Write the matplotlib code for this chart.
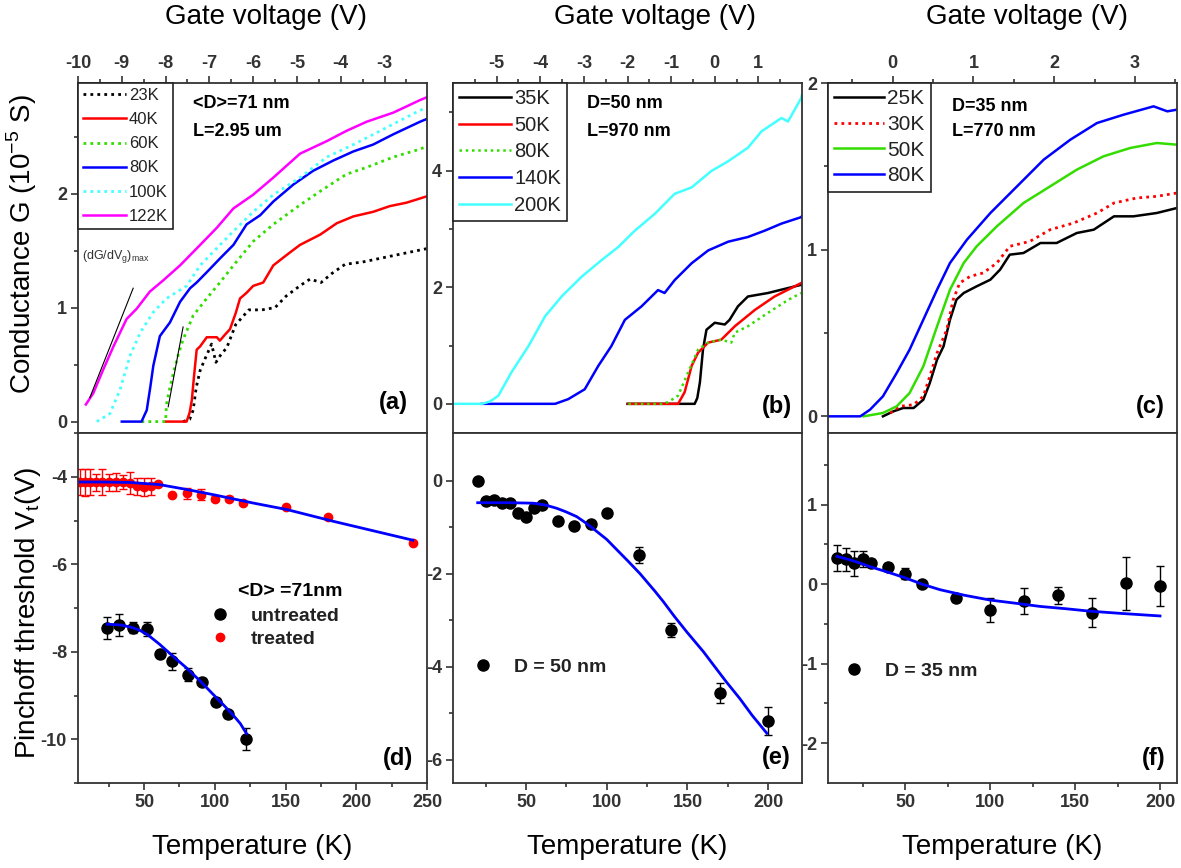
import matplotlib
matplotlib.use('Agg')
import matplotlib.pyplot as plt
from matplotlib.lines import Line2D

plt.rcParams['font.family'] = ['Liberation Sans', 'DejaVu Sans']
plt.rcParams['mathtext.fontset'] = 'custom'
plt.rcParams['mathtext.rm'] = 'Liberation Sans'
plt.rcParams['axes.unicode_minus'] = False

# ---- panel (a): G vs Vg, <D>=71 nm ----
a23_v = [-7.6, -7.45, -7.37, -7.3, -7.21, -7.1, -6.95, -6.85, -6.75, -6.6, -6.4, -6.1, -5.8, -5.5, -5.25, -4.9, -4.7, -4.45, -4.2, -3.9, -3.5, -3.0, -2.5, -2.0]
a23_g = [0, 0.02, 0.1, 0.3, 0.45, 0.55, 0.68, 0.52, 0.58, 0.65, 0.85, 0.98, 0.98, 1.0, 1.1, 1.2, 1.25, 1.22, 1.3, 1.38, 1.4, 1.44, 1.48, 1.52]
a40_v = [-8.0, -7.52, -7.45, -7.4, -7.35, -7.29, -7.21, -7.06, -6.83, -6.76, -6.65, -6.53, -6.4, -6.3, -6.15, -6.0, -5.77, -5.54, -5.24, -4.93, -4.47, -4.09, -3.71, -3.26, -2.88, -2.5, -2.0]
a40_g = [0, 0, 0.08, 0.19, 0.4, 0.63, 0.66, 0.74, 0.74, 0.71, 0.76, 0.81, 0.95, 1.08, 1.13, 1.19, 1.22, 1.37, 1.46, 1.55, 1.64, 1.74, 1.80, 1.84, 1.89, 1.92, 1.98]
a60_v = [-8.55, -8.0, -7.98, -7.9, -7.82, -7.7, -7.6, -7.37, -7.06, -6.76, -6.45, -6.0, -5.54, -4.93, -4.47, -3.87, -3.41, -2.80, -2.19, -2.0]
a60_g = [0, 0, 0.15, 0.3, 0.43, 0.6, 0.72, 0.93, 1.08, 1.22, 1.37, 1.58, 1.73, 1.90, 2.02, 2.17, 2.23, 2.32, 2.39, 2.42]
a80_v = [-9.0, -8.55, -8.43, -8.35, -8.28, -8.13, -7.9, -7.67, -7.44, -7.29, -7.06, -6.76, -6.45, -6.15, -5.84, -5.54, -5.08, -4.63, -4.17, -3.71, -3.26, -2.80, -2.19, -2.0]
a80_g = [0, 0, 0.1, 0.3, 0.49, 0.75, 0.87, 1.05, 1.17, 1.22, 1.31, 1.43, 1.55, 1.73, 1.81, 1.93, 2.08, 2.20, 2.29, 2.37, 2.43, 2.52, 2.63, 2.66]
a100_v = [-9.57, -9.27, -9.04, -8.81, -8.58, -8.28, -7.98, -7.52, -7.21, -6.91, -6.45, -6.0, -5.54, -4.93, -4.32, -3.71, -3.1, -2.65, -2.19, -2.0]
a100_g = [0, 0.07, 0.28, 0.58, 0.78, 0.96, 1.08, 1.19, 1.37, 1.49, 1.67, 1.84, 1.99, 2.14, 2.32, 2.43, 2.55, 2.64, 2.73, 2.76]
a122_v = [-9.82, -9.65, -9.42, -9.19, -8.89, -8.66, -8.36, -8.05, -7.67, -7.21, -6.83, -6.45, -6.0, -5.54, -4.93, -4.32, -3.87, -3.41, -2.80, -2.19, -2.0]
a122_g = [0.15, 0.25, 0.46, 0.66, 0.90, 0.99, 1.14, 1.24, 1.37, 1.55, 1.70, 1.87, 1.99, 2.14, 2.35, 2.46, 2.55, 2.63, 2.71, 2.82, 2.85]
tan1_v = [-9.73, -8.74]
tan1_g = [0.21, 1.17]
tan2_v = [-7.94, -7.6]
tan2_g = [0.13, 0.83]

# ---- panel (b): D=50 nm ----
b35_v = [-2.0, -0.46, -0.4, -0.34, -0.27, -0.19, 0.0, 0.23, 0.34, 0.53, 0.76, 1.22, 1.98]
b35_g = [0, 0, 0.1, 0.37, 0.93, 1.27, 1.39, 1.36, 1.44, 1.67, 1.84, 1.90, 2.04]
b50_v = [-1.98, -0.84, -0.69, -0.53, -0.38, -0.15, 0.15, 0.46, 0.92, 1.37, 1.98]
b50_g = [0, 0, 0.20, 0.65, 0.88, 1.05, 1.10, 1.33, 1.61, 1.84, 2.07]
b80_v = [-1.98, -1.22, -1.07, -0.84, -0.61, -0.38, -0.15, 0.15, 0.38, 0.46, 0.76, 1.22, 1.68, 1.98]
b80_g = [0, 0, 0.03, 0.14, 0.54, 0.93, 1.05, 1.10, 1.05, 1.22, 1.33, 1.56, 1.78, 1.90]
b140_v = [-5.34, -3.66, -3.36, -2.98, -2.67, -2.37, -2.06, -1.68, -1.30, -1.15, -0.92, -0.53, -0.15, 0.31, 0.76, 1.15, 1.53, 1.98, 2.0]
b140_g = [0, 0, 0.08, 0.25, 0.65, 0.99, 1.44, 1.67, 1.95, 1.90, 2.12, 2.41, 2.63, 2.78, 2.86, 2.97, 3.09, 3.20, 3.22]
b200_v = [-6.0, -5.34, -5.15, -4.96, -4.66, -4.27, -3.89, -3.51, -3.05, -2.60, -2.21, -1.83, -1.37, -0.92, -0.53, -0.08, 0.31, 0.76, 1.07, 1.53, 1.68, 1.98, 2.0]
b200_g = [0, 0, 0.04, 0.14, 0.54, 0.99, 1.50, 1.84, 2.18, 2.46, 2.69, 2.97, 3.26, 3.60, 3.71, 3.99, 4.16, 4.39, 4.67, 4.90, 4.84, 5.24, 5.3]

# ---- panel (c): D=35 nm ----
c25_v = [-0.12, 0.01, 0.13, 0.26, 0.38, 0.46, 0.55, 0.63, 0.71, 0.79, 0.88, 1.04, 1.21, 1.33, 1.45, 1.62, 1.83, 2.03, 2.28, 2.49, 2.74, 2.98, 3.27, 3.52]
c25_g = [0.0, 0.03, 0.05, 0.05, 0.10, 0.20, 0.34, 0.42, 0.58, 0.70, 0.74, 0.78, 0.82, 0.88, 0.97, 0.98, 1.04, 1.04, 1.10, 1.12, 1.20, 1.20, 1.22, 1.25]
c30_v = [-0.03, 0.09, 0.26, 0.38, 0.46, 0.55, 0.67, 0.75, 0.83, 0.96, 1.12, 1.29, 1.45, 1.70, 1.95, 2.24, 2.53, 2.74, 3.02, 3.27, 3.52]
c30_g = [0.02, 0.06, 0.07, 0.12, 0.24, 0.38, 0.52, 0.70, 0.80, 0.84, 0.86, 0.92, 1.02, 1.05, 1.12, 1.16, 1.22, 1.28, 1.31, 1.32, 1.34]
c50_v = [-0.36, -0.12, 0.05, 0.21, 0.38, 0.55, 0.71, 0.88, 1.04, 1.29, 1.62, 1.95, 2.28, 2.61, 2.94, 3.27, 3.52]
c50_g = [0.0, 0.02, 0.06, 0.14, 0.30, 0.54, 0.76, 0.92, 1.02, 1.14, 1.28, 1.38, 1.48, 1.56, 1.61, 1.64, 1.63]
c80_v = [-0.80, -0.40, -0.28, -0.12, 0.05, 0.21, 0.38, 0.55, 0.71, 0.92, 1.21, 1.54, 1.87, 2.20, 2.53, 2.86, 3.23, 3.40, 3.52]
c80_g = [0.0, 0.0, 0.04, 0.12, 0.26, 0.40, 0.58, 0.76, 0.92, 1.06, 1.22, 1.38, 1.54, 1.66, 1.76, 1.81, 1.86, 1.83, 1.84]

# ---- panel (d): Vt vs T, <D>=71 nm ----
dtr_T = [5, 8, 12, 16, 20, 25, 30, 35, 40, 45, 50, 55, 60, 70, 80, 90, 100, 110, 120, 150, 180, 240]
dtr_V = [-4.12, -4.13, -4.12, -4.13, -4.12, -4.13, -4.12, -4.12, -4.15, -4.22, -4.23, -4.22, -4.16, -4.42, -4.38, -4.41, -4.5, -4.5, -4.6, -4.69, -4.91, -5.51]
dtr_e = [0.3, 0.3, 0.3, 0.2, 0.3, 0.2, 0.2, 0.15, 0.25, 0.2, 0.2, 0.2, 0.05, 0, 0.12, 0.12, 0.05, 0.05, 0.05, 0, 0, 0]
dtr_fitT = [5, 20, 40, 61, 80, 99, 127, 151, 184, 240]
dtr_fitV = [-4.12, -4.12, -4.13, -4.18, -4.29, -4.41, -4.6, -4.75, -5.02, -5.45]
dun_T = [24, 32, 42, 52, 61, 70, 81, 91, 101, 109, 122]
dun_V = [-7.45, -7.38, -7.45, -7.48, -8.04, -8.22, -8.52, -8.69, -9.14, -9.43, -10.0]
dun_e = [0.25, 0.25, 0.12, 0.15, 0.08, 0.2, 0.15, 0.08, 0.08, 0.08, 0.25]
dun_fitT = [24, 34, 42, 47, 52, 56, 61, 70, 80, 90, 99, 106, 113, 118, 122.4]
dun_fitV = [-7.37, -7.39, -7.45, -7.51, -7.6, -7.7, -7.83, -8.09, -8.37, -8.68, -8.98, -9.21, -9.45, -9.64, -9.87]

# ---- panel (e): D=50 nm ----
e_T = [20, 25, 30, 35, 40, 45, 50, 55, 60, 70, 80, 90, 100, 120, 140, 170, 200]
e_V = [-0.01, -0.43, -0.41, -0.47, -0.48, -0.70, -0.77, -0.59, -0.52, -0.87, -0.97, -0.92, -0.70, -1.60, -3.21, -4.56, -5.16]
e_e = [0.05, 0.05, 0.05, 0.05, 0.05, 0.05, 0.05, 0.05, 0.05, 0.05, 0.05, 0.05, 0.05, 0.17, 0.15, 0.22, 0.3]
e_fitT = [20, 40, 54.5, 62, 69, 75, 81.4, 86, 91.7, 100, 106.2, 113, 120.7, 130, 135.1, 142, 149.6, 160, 166.1, 174, 182.6, 190, 199.2]
e_fitV = [-0.47, -0.47, -0.48, -0.52, -0.59, -0.67, -0.77, -0.88, -1.03, -1.26, -1.48, -1.72, -2.0, -2.38, -2.6, -2.92, -3.25, -3.68, -3.96, -4.32, -4.69, -5.04, -5.43]

# ---- panel (f): D=35 nm ----
f_T = [10, 15, 20, 25, 30, 40, 50, 60, 80, 100, 120, 140, 160, 180, 200]
f_V = [0.33, 0.31, 0.26, 0.32, 0.27, 0.21, 0.13, 0.0, -0.18, -0.32, -0.21, -0.14, -0.36, 0.01, -0.02]
f_e = [0.16, 0.15, 0.16, 0.1, 0.04, 0.05, 0.07, 0.04, 0.05, 0.15, 0.16, 0.11, 0.18, 0.33, 0.25]
f_fitT = [10, 20, 29.4, 40, 50, 60, 70.6, 85, 100, 115, 129.4, 145, 158.8, 178.4, 200]
f_fitV = [0.35, 0.29, 0.22, 0.15, 0.08, 0.0, -0.07, -0.14, -0.20, -0.24, -0.28, -0.31, -0.34, -0.37, -0.40]

GREEN = '#33dd00'
CYAN = '#44ffff'
DOT = (0, (1, 1.5))

fig = plt.figure(figsize=(11.81, 8.68), dpi=100)
W, H = 1181.0, 868.0


def make_ax(x0, y0, x1, y1):
    return fig.add_axes([x0 / W, (H - y1) / H, (x1 - x0) / W, (y1 - y0) / H])


def style(ax, top, xt, xl, xminor, yt, yl, yminor, title_x=0.5):
    for s in ax.spines.values():
        s.set_linewidth(1.3)
        s.set_color('#333333')
    ax.set_xticks(xt, xl, fontweight='bold', fontsize=13, color='#222222')
    ax.set_xticks(xminor, minor=True)
    ax.set_yticks(yt, yl, fontweight='bold', fontsize=13, color='#222222')
    ax.set_yticks(yminor, minor=True)
    ax.tick_params(which='both', direction='out', width=1.2, colors='#333333', pad=3)
    ax.tick_params(which='major', length=5)
    ax.tick_params(which='minor', length=3)
    ax.tick_params(axis='y', which='both', left=True, right=False)
    if top:
        ax.tick_params(axis='x', which='both', top=True, bottom=False, labeltop=True, labelbottom=False)
        ax.text(title_x, 1.19, 'Gate voltage (V)', transform=ax.transAxes, ha='center', va='center', fontsize=20)
    else:
        ax.tick_params(axis='x', which='both', top=False, bottom=True)
        ax.text(title_x, -0.183, 'Temperature (K)', transform=ax.transAxes, ha='center', va='center', fontsize=20)


def frange(a, b, s):
    out = []
    v = a
    while v <= b + 1e-9:
        out.append(round(v, 6))
        v += s
    return out


def panel_tag(ax, s, x, y):
    ax.text(x, y, s, transform=ax.transAxes, ha='right', va='center', fontsize=17, fontweight='bold')


def leg(ax, fs, spacing, hl):
    lg = ax.legend(loc='upper left', bbox_to_anchor=(0, 1), borderaxespad=0, fancybox=False,
                   edgecolor='#222222', framealpha=1, fontsize=fs, handlelength=hl,
                   handletextpad=0.15, borderpad=0.3, labelspacing=spacing)
    lg.get_frame().set_linewidth(1.2)
    for t in lg.get_texts():
        t.set_color('#222222')


# ----- (a)
ax = make_ax(78, 83, 427, 433)
ax.plot(a23_v, a23_g, color='black', lw=2, ls=DOT, label='23K')
ax.plot(a40_v, a40_g, color='red', lw=1.8, label='40K')
ax.plot(a60_v, a60_g, color=GREEN, lw=2, ls=DOT, label='60K')
ax.plot(a80_v, a80_g, color='blue', lw=1.8, label='80K')
ax.plot(a100_v, a100_g, color=CYAN, lw=2, ls=DOT, label='100K')
ax.plot(a122_v, a122_g, color='magenta', lw=1.8, label='122K')
ax.plot(tan1_v, tan1_g, color='black', lw=0.8)
ax.plot(tan2_v, tan2_g, color='black', lw=0.8)
ax.set_xlim(-10, -2.03)
ax.set_ylim(-0.1, 2.97)
style(ax, True, list(range(-10, -2)), [str(v) for v in range(-10, -2)], frange(-9.5, -2.5, 1),
      [0, 1, 2], ['0', '1', '2'], [0.5, 1.5, 2.5], title_x=0.54)
leg(ax, 12, 0.55, 2.6)
ax.text(0.33, 0.94, '<D>=71 nm', transform=ax.transAxes, fontsize=13, fontweight='bold', va='center')
ax.text(0.33, 0.86, 'L=2.95 um', transform=ax.transAxes, fontsize=13, fontweight='bold', va='center')
ax.text(0.012, 0.503, '(dG/dV$_\\mathregular{g}$)$_\\mathregular{max}$', transform=ax.transAxes,
        fontsize=9, va='center', color='#333333')
panel_tag(ax, '(a)', 0.946, 0.086)

# ----- (b)
ax = make_ax(453, 83, 802, 433)
ax.plot(b35_v, b35_g, color='black', lw=1.8, label='35K')
ax.plot(b50_v, b50_g, color='red', lw=1.8, label='50K')
ax.plot(b80_v, b80_g, color=GREEN, lw=1.8, ls=DOT, label='80K')
ax.plot(b140_v, b140_g, color='blue', lw=1.8, label='140K')
ax.plot(b200_v, b200_g, color=CYAN, lw=1.8, label='200K')
ax.set_xlim(-6, 2.0)
ax.set_ylim(-0.5, 5.5)
style(ax, True, list(range(-5, 2)), [str(v) for v in range(-5, 2)], frange(-5.5, 1.5, 1),
      [0, 2, 4], ['0', '2', '4'], [1, 3, 5], title_x=0.58)
leg(ax, 14.5, 0.38, 2.6)
ax.text(0.384, 0.94, 'D=50 nm', transform=ax.transAxes, fontsize=13, fontweight='bold', va='center')
ax.text(0.384, 0.86, 'L=970 nm', transform=ax.transAxes, fontsize=13, fontweight='bold', va='center')
panel_tag(ax, '(b)', 0.971, 0.077)

# ----- (c)
ax = make_ax(828, 83, 1177, 433)
ax.plot(c25_v, c25_g, color='black', lw=1.8, label='25K')
ax.plot(c30_v, c30_g, color='red', lw=2, ls=DOT, label='30K')
ax.plot(c50_v, c50_g, color=GREEN, lw=1.8, label='50K')
ax.plot(c80_v, c80_g, color='blue', lw=1.8, label='80K')
ax.set_xlim(-0.8, 3.52)
ax.set_ylim(-0.1, 2.0)
style(ax, True, [0, 1, 2, 3], ['0', '1', '2', '3'], [-0.5, 0.5, 1.5, 2.5, 3.5],
      [0, 1, 2], ['0', '1', '2'], [0.5, 1.5], title_x=0.57)
leg(ax, 15, 0.32, 2.4)
ax.text(0.355, 0.934, 'D=35 nm', transform=ax.transAxes, fontsize=13, fontweight='bold', va='center')
ax.text(0.355, 0.86, 'L=770 nm', transform=ax.transAxes, fontsize=13, fontweight='bold', va='center')
panel_tag(ax, '(c)', 0.966, 0.077)


def key_legend(ax, handles, labels, x, y):
    lg = ax.legend(handles, labels, loc='upper left', bbox_to_anchor=(x, y), borderaxespad=0,
                   frameon=False, fontsize=14, handlelength=1.0, handletextpad=1.1,
                   borderpad=0, labelspacing=0.3)
    for t in lg.get_texts():
        t.set_fontweight('bold')
        t.set_color('#222222')


# ----- (d)
ax = make_ax(78, 433, 427, 783)
ax.errorbar(dtr_T, dtr_V, yerr=dtr_e, fmt='none', ecolor='red', elinewidth=1, capsize=3)
ax.plot(dtr_T, dtr_V, 'o', color='red', ms=6, ls='none')
ax.plot(dtr_fitT, dtr_fitV, color='blue', lw=2)
ax.errorbar(dun_T, dun_V, yerr=dun_e, fmt='none', ecolor='black', elinewidth=1, capsize=3)
ax.plot(dun_T, dun_V, 'o', color='black', ms=8, ls='none')
ax.plot(dun_fitT, dun_fitV, color='blue', lw=2)
ax.set_xlim(3.3, 250)
ax.set_ylim(-11, -3)
style(ax, False, [50, 100, 150, 200, 250], ['50', '100', '150', '200', '250'], [25, 75, 125, 175, 225],
      [-4, -6, -8, -10], ['-4', '-6', '-8', '-10'], [-3, -5, -7, -9, -11])
ax.text(0.458, 0.546, '<D> =71nm', transform=ax.transAxes, fontsize=14, fontweight='bold', va='center')
key_legend(ax, [Line2D([], [], marker='o', color='black', ms=8, ls='none'),
                Line2D([], [], marker='o', color='red', ms=6, ls='none')],
           ['untreated', 'treated'], 0.378, 0.503)
panel_tag(ax, '(d)', 0.96, 0.071)

# ----- (e)
ax = make_ax(453, 433, 802, 783)
ax.errorbar(e_T, e_V, yerr=e_e, fmt='none', ecolor='black', elinewidth=1, capsize=3)
ax.plot(e_T, e_V, 'o', color='black', ms=8, ls='none')
ax.plot(e_fitT, e_fitV, color='blue', lw=2)
ax.set_xlim(4.7, 221)
ax.set_ylim(-6.5, 1.03)
style(ax, False, [50, 100, 150, 200], ['50', '100', '150', '200'], [25, 75, 125, 175],
      [0, -2, -4, -6], ['0', '-2', '-4', '-6'], [-1, -3, -5])
key_legend(ax, [Line2D([], [], marker='o', color='black', ms=8, ls='none')], ['D = 50 nm'], 0.057, 0.357)
panel_tag(ax, '(e)', 0.966, 0.074)

# ----- (f)
ax = make_ax(828, 433, 1177, 783)
ax.errorbar(f_T, f_V, yerr=f_e, fmt='none', ecolor='black', elinewidth=1, capsize=3)
ax.plot(f_T, f_V, 'o', color='black', ms=8, ls='none')
ax.plot(f_fitT, f_fitV, color='blue', lw=2)
ax.set_xlim(4.7, 210)
ax.set_ylim(-2.5, 1.9)
style(ax, False, [50, 100, 150, 200], ['50', '100', '150', '200'], [25, 75, 125, 175],
      [1, 0, -1, -2], ['1', '0', '-1', '-2'], [1.5, 0.5, -0.5, -1.5])
key_legend(ax, [Line2D([], [], marker='o', color='black', ms=8, ls='none')], ['D = 35 nm'], 0.046, 0.346)
panel_tag(ax, '(f)', 0.968, 0.071)

fig.text(22 / W, 1 - 244 / H, 'Conductance G (10$^\\mathregular{-5}$ S)', rotation=90,
         ha='center', va='center', fontsize=20)
fig.text(28 / W, 1 - 613 / H, 'Pinchoff threshold V$_\\mathregular{t}$(V)', rotation=90,
         ha='center', va='center', fontsize=20)

fig.savefig('out.png', dpi=100)
